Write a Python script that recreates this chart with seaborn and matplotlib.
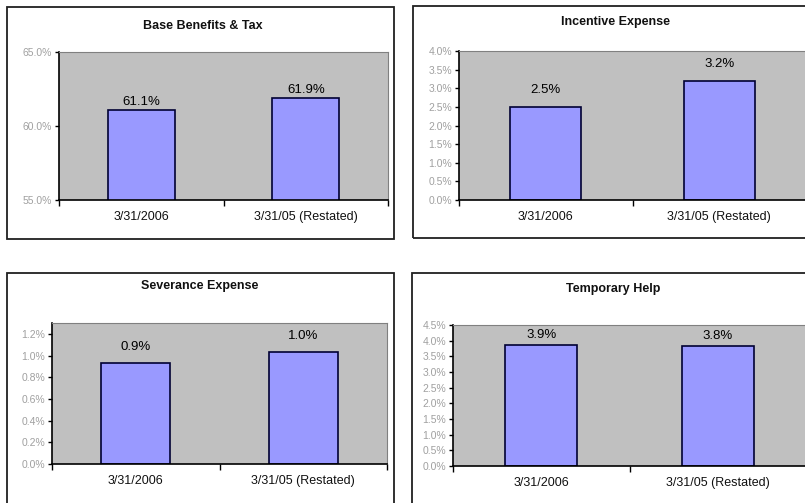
import matplotlib
matplotlib.use("Agg")
import matplotlib.pyplot as plt
import seaborn as sns
import pandas as pd
from matplotlib.patches import Rectangle

# Chart data
categories = ["3/31/2006", "3/31/05 (Restated)"]
base_benefits_tax = [61.1, 61.9]
incentive_expense = [2.5, 3.2]
severance_expense = [0.93, 1.03]
temporary_help = [3.86, 3.84]
titles = ["Base Benefits & Tax", "Incentive Expense", "Severance Expense", "Temporary Help"]

sns.set_theme(style="white")
plt.rcParams["font.family"] = ["Liberation Sans", "DejaVu Sans"]

W, H = 805, 503
fig = plt.figure(figsize=(W / 100, H / 100), dpi=100)
fig.patch.set_facecolor("white")


def add_px_axes(x0, y0, x1, y1):
    return fig.add_axes([x0 / W, 1 - y1 / H, (x1 - x0) / W, (y1 - y0) / H])


def add_frame(x0, y0, x1, y1):
    fig.patches.append(Rectangle((x0 / W, 1 - y1 / H), (x1 - x0) / W, (y1 - y0) / H,
                                 transform=fig.transFigure, fill=False,
                                 edgecolor="#202020", linewidth=1.3))


panels = [
    dict(values=base_benefits_tax, title=titles[0], frame=(7, 7, 394, 239),
         plot=(59, 52, 388, 200), ylim=(55, 65), step=5.0, pad=2, title_xy=(203, 26)),
    dict(values=incentive_expense, title=titles[1], frame=(413, 6, 830, 238),
         plot=(459, 51, 806, 200), ylim=(0, 4.0), step=0.5, pad=11, title_xy=(615, 22)),
    dict(values=severance_expense, title=titles[2], frame=(7, 273, 394, 530),
         plot=(52, 323, 387, 464), ylim=(0, 1.3), step=0.2, pad=10, title_xy=(200, 286)),
    dict(values=temporary_help, title=titles[3], frame=(412, 273, 830, 530),
         plot=(453, 325, 806, 466), ylim=(0, 4.5), step=0.5, pad=4, title_xy=(613, 289)),
]

for p in panels:
    add_frame(*p["frame"])
    fig.text(p["title_xy"][0] / W, 1 - p["title_xy"][1] / H, p["title"],
             ha="center", va="center", fontsize=9, fontweight="bold", color="#111111")

    ax = add_px_axes(*p["plot"])
    df = pd.DataFrame({"period": categories, "value": p["values"]})
    sns.barplot(data=df, x="period", y="value", ax=ax, color="#9999FF",
                saturation=1, edgecolor="#000033", linewidth=1.2, width=0.41)
    ax.set_facecolor("#C0C0C0")
    ax.set_xlim(-0.5, 1.5)
    lo, hi = p["ylim"]
    ax.set_ylim(lo, hi)

    n = int(round((hi - lo) / p["step"]))
    ticks = [lo + i * p["step"] for i in range(n + 1) if lo + i * p["step"] <= hi + 1e-9]
    ax.set_yticks(ticks)
    ax.set_yticklabels([f"{t:.1f}%" for t in ticks], fontsize=7.5, color="#A0A0A0")
    ax.tick_params(axis="y", which="major", direction="out", length=3, width=1,
                   color="black", left=True, pad=2)

    ax.set_xticks([0, 1])
    ax.set_xticklabels(categories, fontsize=9, color="#111111")
    for lbl in ax.get_xticklabels():
        lbl.set_verticalalignment("baseline")
    ax.set_xticks([-0.5, 0.5, 1.5], minor=True)
    ax.tick_params(axis="x", which="major", length=0, pad=14.5)
    ax.tick_params(axis="x", which="minor", direction="out", length=4, width=1,
                   color="black", bottom=True)

    ax.set_xlabel("")
    ax.set_ylabel("")
    for side in ("left", "bottom"):
        ax.spines[side].set_color("black")
        ax.spines[side].set_linewidth(1.2)
    for side in ("top", "right"):
        ax.spines[side].set_color("#808080")
        ax.spines[side].set_linewidth(0.8)

    for i, v in enumerate(p["values"]):
        ax.annotate(f"{v:.1f}%", (i, v), xytext=(0, p["pad"]), textcoords="offset pixels",
                    ha="center", va="bottom", fontsize=9.5, color="black")

fig.savefig("out.png", dpi=100, facecolor="white")
